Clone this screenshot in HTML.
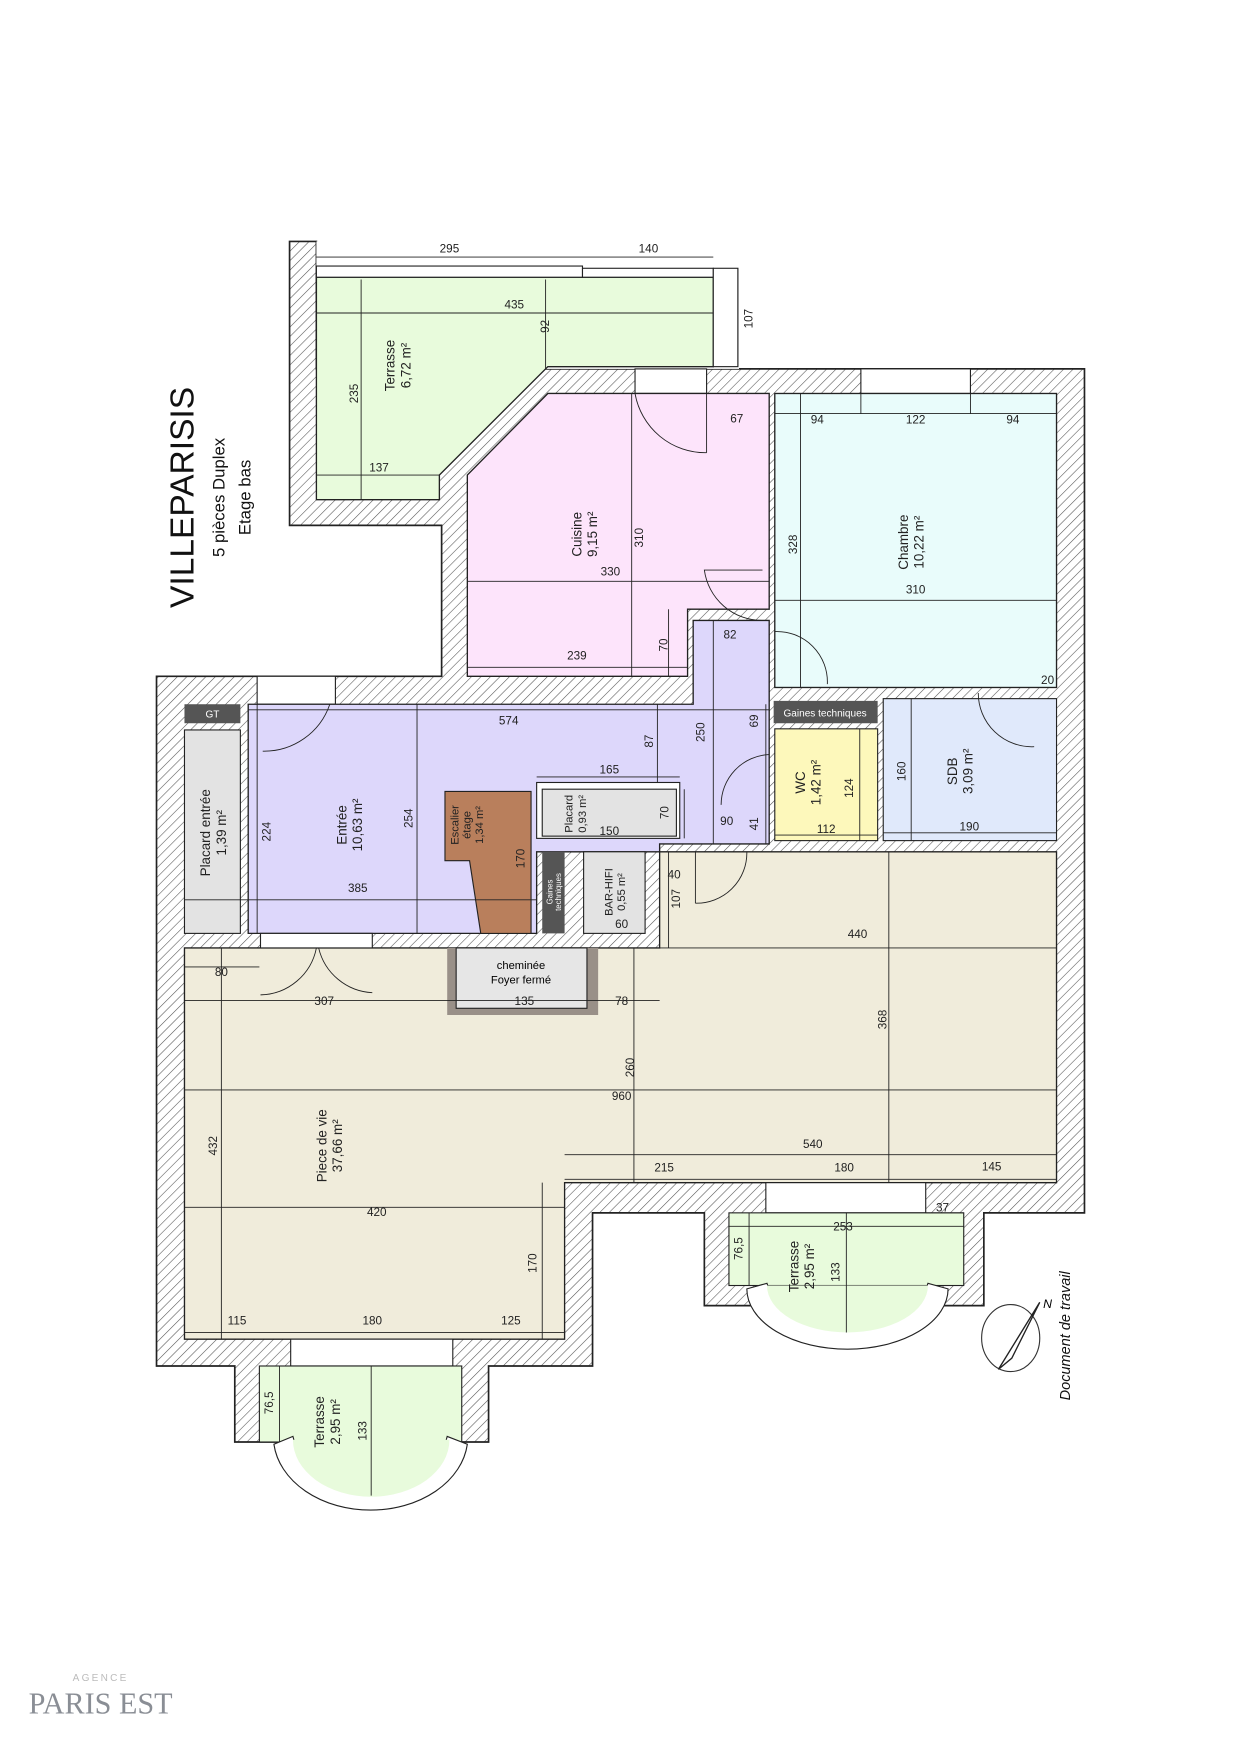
<!DOCTYPE html>
<html><head><meta charset="utf-8"><style>
html,body{margin:0;padding:0;background:#fff;}
svg{display:block;font-family:"Liberation Sans",sans-serif;}
.d{font-size:10.5px;fill:#222;text-anchor:middle;font-family:"Liberation Sans Narrow","Liberation Sans",sans-serif;}
.r{font-size:12px;fill:#222;text-anchor:middle;}
.l{stroke:#222;stroke-width:0.8;fill:none;}
</style></head><body>
<svg width="1241" height="1755" viewBox="0 0 1110 1570" preserveAspectRatio="none" xmlns="http://www.w3.org/2000/svg">
<defs>
<pattern id="h" width="6" height="6" patternUnits="userSpaceOnUse" patternTransform="rotate(45)">
<rect width="6" height="6" fill="#fff"/><line x1="0" y1="0" x2="0" y2="6" stroke="#555" stroke-width="1"/>
</pattern>
</defs>
<rect width="1110" height="1570" fill="#fff"/>
<polygon points="259,216 283,216 283,330 970,330 970,1085 880,1085 880,1168 630,1168 630,1085 530,1085 530,1222 437,1222 437,1290 210,1290 210,1222 140,1222 140,605 395,605 395,470 259,470" fill="url(#h)" stroke="#222" stroke-width="1.5"/>
<rect x="283" y="216" width="378" height="114" fill="#fff"/>
<polygon points="283,248 638,248 638,328 490,328 393,425 393,447 283,447" fill="#e8fbdc" stroke="#222" stroke-width="1.2"/>
<rect x="283" y="238" width="238" height="10" fill="#fff" stroke="#222"/>
<rect x="521" y="240" width="117" height="8" fill="#fff" stroke="#222"/>
<rect x="638" y="240" width="22" height="88" fill="#fff" stroke="#222"/>
<rect x="568" y="330" width="64" height="22" fill="#fff" stroke="#222"/>
<rect x="770" y="330" width="98" height="22" fill="#fff" stroke="#222"/>
<rect x="230" y="605" width="70" height="25" fill="#fff" stroke="#222"/>
<polygon points="490,352 688,352 688,545 615,545 615,605 418,605 418,425" fill="#fde4fb" stroke="#222" stroke-width="1.2"/>
<rect x="693" y="352" width="252" height="263" fill="#e9fcfb" stroke="#222" stroke-width="1.2"/>
<polygon points="222,630 620,630 620,555 688,555 688,755 590,755 590,762 480,762 480,835 222,835" fill="#ddd7fb" stroke="#222" stroke-width="1.2"/>
<rect x="165" y="630" width="50" height="17" fill="#555"/>
<text x="190" y="642" font-size="9" fill="#fff" text-anchor="middle">GT</text>
<rect x="165" y="653" width="50" height="182" fill="#e3e3e3" stroke="#222"/>
<polygon points="398,708 475,708 475,835 430,835 420,770 398,770" fill="#b97f5c" stroke="#222"/>
<rect x="480" y="700" width="128" height="50" fill="#fff" stroke="#222"/>
<rect x="485" y="706" width="120" height="42" fill="#e3e3e3" stroke="#222"/>
<rect x="485" y="762" width="20" height="73" fill="#555"/>
<rect x="522" y="762" width="55" height="73" fill="#e3e3e3" stroke="#222"/>
<rect x="692" y="627" width="93" height="20" fill="#555"/>
<text x="738" y="641" font-size="9" fill="#fff" text-anchor="middle">Gaines techniques</text>
<rect x="693" y="652" width="92" height="100" fill="#fdf8bb" stroke="#222"/>
<rect x="790" y="625" width="155" height="127" fill="#e0e9fb" stroke="#222"/>
<polygon points="590,762 945,762 945,1058 505,1058 505,1198 165,1198 165,848 590,848" fill="#f0ecdb" stroke="#222" stroke-width="1.2"/>
<rect x="400" y="848" width="135" height="60" fill="#999088"/>
<rect x="408" y="848" width="117" height="54" fill="#e6e6e6" stroke="#222"/>
<text x="466" y="867" font-size="10" text-anchor="middle">cheminée</text>
<text x="466" y="880" font-size="10" text-anchor="middle">Foyer fermé</text>
<rect x="233" y="835" width="100" height="13" fill="#fff" stroke="#222"/>
<rect x="685" y="1058" width="143" height="27" fill="#fff" stroke="#222"/>
<rect x="260" y="1198" width="145" height="24" fill="#fff" stroke="#222"/>
<rect x="232" y="1222" width="181" height="68" fill="#e8fbdc" stroke="#222"/>
<path d="M245,1292 A87,66 0 0 0 418,1292 L400,1285 A70,55 0 0 1 262,1285 Z" fill="#fff" stroke="#222"/>
<path d="M262,1288 A70,51 0 0 0 402,1288 Z" fill="#e8fbdc"/>
<rect x="652" y="1085" width="210" height="65" fill="#e8fbdc" stroke="#222"/>
<path d="M668,1153 A90,54 0 0 0 848,1153 L830,1148 A73,44 0 0 1 686,1148 Z" fill="#fff" stroke="#222"/>
<path d="M686,1150 A72,42 0 0 0 830,1150 Z" fill="#e8fbdc"/>
<path class="l" d="M632,352 L632,405 M568,352 A64,64 0 0 0 632,405"/>
<path class="l" d="M682,510 L630,510 A52,52 0 0 0 682,555"/>
<path class="l" d="M693,565 A45,45 0 0 1 740,612"/>
<path class="l" d="M235,672 A62,62 0 0 0 295,630"/>
<path class="l" d="M645,720 A45,45 0 0 1 688,675"/>
<path class="l" d="M875,620 A48,48 0 0 0 925,668"/>
<path class="l" d="M622,808 A45,45 0 0 0 668,762 M622,762 L622,808"/>
<path class="l" d="M233,890 A52,52 0 0 0 283,848 M333,888 A52,52 0 0 1 285,848"/>
<g class="l">
<path d="M283,230 H638 M283,280 H638 M323,250 V447 M488,250 V330 M283,425 H393 M660,240 V328"/>
<path d="M565,352 V605 M418,520 H688 M418,597 H615 M598,545 V605 M620,555 H688"/>
<path d="M693,370 H945 M716,352 V615 M693,537 H945 M770,352 V370 M868,352 V370"/>
<path d="M222,635 H688 M230,630 V835 M373,630 V835 M165,805 H480 M588,630 V700 M638,555 V755 M480,695 H608 M685,630 V755 M612,706 V750"/>
<path d="M769,652 V752 M693,747 H785 M815,625 V752 M790,745 H945"/>
<path d="M598,762 V848 M590,848 H945 M165,865 H232 M165,895 H590 M567,848 V1058 M795,762 V1058 M165,975 H945 M505,1033 H945 M505,1055 H945 M198,848 V1198 M165,1080 H505 M485,1058 V1198 M165,1192 H505"/>
<path d="M250,1222 V1290 M332,1222 V1338 M670,1085 V1150 M757,1085 V1192 M652,1097 H862 M828,1085 H862"/>
</g>
<g class="d">
<text x="402" y="226">295</text><text x="580" y="226">140</text><text x="460" y="276">435</text>
<text x="339" y="422">137</text><text x="659" y="378">67</text><text x="546" y="515">330</text>
<text x="516" y="590">239</text><text x="653" y="571">82</text><text x="731" y="379">94</text>
<text x="819" y="379">122</text><text x="906" y="379">94</text><text x="819" y="531">310</text>
<text x="937" y="612">20</text><text x="455" y="648">574</text><text x="320" y="798">385</text>
<text x="545" y="692">165</text><text x="545" y="747">150</text><text x="650" y="738">90</text>
<text x="739" y="745">112</text><text x="867" y="743">190</text><text x="556" y="830">60</text>
<text x="603" y="786">40</text><text x="767" y="839">440</text><text x="198" y="873">80</text>
<text x="290" y="899">307</text><text x="469" y="899">135</text><text x="556" y="899">78</text>
<text x="556" y="984">960</text><text x="727" y="1027">540</text><text x="594" y="1048">215</text>
<text x="755" y="1048">180</text><text x="887" y="1047">145</text><text x="337" y="1088">420</text>
<text x="212" y="1185">115</text><text x="333" y="1185">180</text><text x="457" y="1185">125</text>
<text x="754" y="1101">253</text><text x="843" y="1084">37</text>
</g>
<g class="d">
<text transform="translate(491,292) rotate(-90)">92</text>
<text transform="translate(673,285) rotate(-90)">107</text>
<text transform="translate(320,352) rotate(-90)">235</text>
<text transform="translate(575,481) rotate(-90)">310</text>
<text transform="translate(597,577) rotate(-90)">70</text>
<text transform="translate(713,487) rotate(-90)">328</text>
<text transform="translate(242,744) rotate(-90)">224</text>
<text transform="translate(369,732) rotate(-90)">254</text>
<text transform="translate(584,663) rotate(-90)">87</text>
<text transform="translate(630,655) rotate(-90)">250</text>
<text transform="translate(678,645) rotate(-90)">69</text>
<text transform="translate(598,727) rotate(-90)">70</text>
<text transform="translate(678,737) rotate(-90)">41</text>
<text transform="translate(469,768) rotate(-90)">170</text>
<text transform="translate(608,804) rotate(-90)">107</text>
<text transform="translate(763,705) rotate(-90)">124</text>
<text transform="translate(810,690) rotate(-90)">160</text>
<text transform="translate(793,912) rotate(-90)">368</text>
<text transform="translate(567,955) rotate(-90)">260</text>
<text transform="translate(194,1025) rotate(-90)">432</text>
<text transform="translate(480,1130) rotate(-90)">170</text>
<text transform="translate(244,1255) rotate(-90)">76,5</text>
<text transform="translate(328,1280) rotate(-90)">133</text>
<text transform="translate(664,1117) rotate(-90)">76,5</text>
<text transform="translate(751,1138) rotate(-90)">133</text>
</g>
<g class="r">
<text transform="translate(353,327) rotate(-90)"><tspan x="0">Terrasse</tspan><tspan x="0" dy="14">6,72 m²</tspan></text>
<text transform="translate(520,478) rotate(-90)"><tspan x="0">Cuisine</tspan><tspan x="0" dy="14">9,15 m²</tspan></text>
<text transform="translate(812,485) rotate(-90)"><tspan x="0">Chambre</tspan><tspan x="0" dy="14">10,22 m²</tspan></text>
<text transform="translate(188,745) rotate(-90)"><tspan x="0">Placard entrée</tspan><tspan x="0" dy="14">1,39 m²</tspan></text>
<text transform="translate(310,738) rotate(-90)"><tspan x="0">Entrée</tspan><tspan x="0" dy="14">10,63 m²</tspan></text>
<text transform="translate(512,728) rotate(-90)" font-size="10"><tspan x="0">Placard</tspan><tspan x="0" dy="12">0,93 m²</tspan></text>
<text transform="translate(410,738) rotate(-90)" font-size="10"><tspan x="0">Escalier</tspan><tspan x="0" dy="11">étage</tspan><tspan x="0" dy="11">1,34 m²</tspan></text>
<text transform="translate(548,798) rotate(-90)" font-size="10"><tspan x="0">BAR-HIFI</tspan><tspan x="0" dy="11">0,55 m²</tspan></text>
<text transform="translate(494,798) rotate(-90)" font-size="7" fill="#fff"><tspan x="0">Gaines</tspan><tspan x="0" dy="8">techniques</tspan></text>
<text transform="translate(720,700) rotate(-90)"><tspan x="0">WC</tspan><tspan x="0" dy="14">1,42 m²</tspan></text>
<text transform="translate(856,690) rotate(-90)"><tspan x="0">SDB</tspan><tspan x="0" dy="14">3,09 m²</tspan></text>
<text transform="translate(292,1025) rotate(-90)"><tspan x="0">Piece de vie</tspan><tspan x="0" dy="14">37,66 m²</tspan></text>
<text transform="translate(290,1272) rotate(-90)"><tspan x="0">Terrasse</tspan><tspan x="0" dy="14">2,95 m²</tspan></text>
<text transform="translate(714,1133) rotate(-90)"><tspan x="0">Terrasse</tspan><tspan x="0" dy="14">2,95 m²</tspan></text>
</g>
<text transform="translate(173,445) rotate(-90)" font-size="30" text-anchor="middle" fill="#111">VILLEPARISIS</text>
<text transform="translate(201,445) rotate(-90)" font-size="15" text-anchor="middle" fill="#111">5 pièces Duplex</text>
<text transform="translate(224,445) rotate(-90)" font-size="15" text-anchor="middle" fill="#111">Etage bas</text>
<ellipse cx="904" cy="1197" rx="26" ry="30" fill="none" stroke="#333"/>
<path d="M893,1225 L930,1165 L905,1215 Z" fill="none" stroke="#222" stroke-width="1.2"/>
<text x="933" y="1170" font-size="11" font-style="italic">N</text>
<text transform="translate(957,1195) rotate(-90)" font-size="13" font-style="italic" text-anchor="middle" fill="#111">Document de travail</text>
<text x="90" y="1504" font-size="9" fill="#bbb" text-anchor="middle" letter-spacing="2">AGENCE</text>
<text x="90" y="1533" font-size="27" fill="#8a8e95" text-anchor="middle" font-family="Liberation Serif,serif">PARIS EST</text>
</svg>
</body></html>
